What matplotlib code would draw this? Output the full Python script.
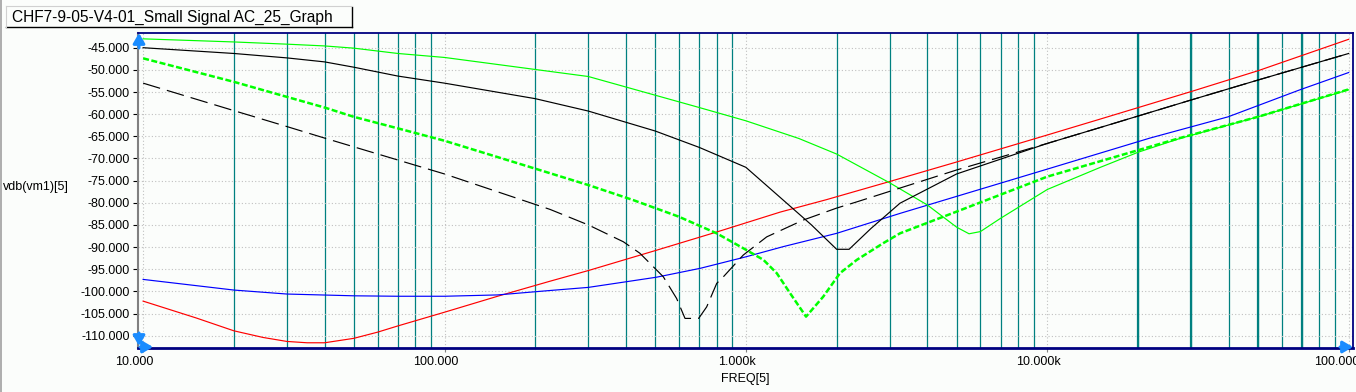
import numpy as np
import matplotlib
matplotlib.use("Agg")
import matplotlib.pyplot as plt
from matplotlib.lines import Line2D
from matplotlib.transforms import ScaledTranslation

plt.rcParams['font.family'] = ['Liberation Sans', 'DejaVu Sans']

W, H = 1356, 392

# ---------------- data ----------------
title = "CHF7-9-05-V4-01_Small Signal AC_25_Graph"
y_label = "vdb(vm1)[5]"
x_label = "FREQ[5]"

x_ticks = [10, 100, 1000, 10000, 100000]
x_tick_labels = ["10.000", "100.000", "1.000k", "10.000k", "100.000k"]
y_ticks = [-110, -105, -100, -95, -90, -85, -80, -75, -70, -65, -60, -55, -50, -45]
y_tick_labels = ["%.3f" % v for v in y_ticks]

red_f = [10, 15, 20, 25, 30, 35, 40, 50, 60, 70, 100, 150, 224, 300, 500, 800,
         1300, 1850, 3000, 5000, 10000, 15000, 30000, 50000, 100000]
red_v = [-102.2, -106.0, -108.9, -110.4, -111.3, -111.6, -111.6, -110.6, -109.2,
         -107.8, -104.7, -101.1, -97.7, -95.3, -90.8, -86.6, -82.1, -79.3, -75.2,
         -70.8, -64.7, -61.1, -54.9, -50.2, -43.1]

blk_f = [10, 20, 30, 40, 50, 70, 100, 200, 300, 500, 700, 1000, 1330, 1650,
         2000, 2200, 2600, 3245, 5000, 10000, 15000, 30000, 50000, 100000]
blk_v = [-45.0, -46.3, -47.3, -48.2, -49.4, -51.4, -53.0, -56.5, -59.3, -63.8,
         -67.5, -72.0, -79.4, -85.0, -90.5, -90.5, -85.8, -80.1, -73.5, -66.6,
         -63.0, -56.8, -52.3, -46.3]

blkd_f = [10, 20, 30, 40, 100, 224, 300, 392, 445, 532, 589, 628, 697, 741, 800,
          842, 980, 1172, 1550, 2000, 2332, 5000, 10000, 15000, 30000, 50000, 100000]
blkd_v = [-53.0, -59.2, -62.8, -65.4, -73.5, -81.5, -85.0, -88.8, -91.4, -96.7,
          -101.6, -106.1, -106.1, -103.5, -98.2, -96.7, -91.8, -87.7, -83.9, -81.2,
          -79.8, -72.6, -66.6, -63.0, -56.8, -52.3, -46.3]

grn_f = [10, 20, 30, 40, 50, 70, 100, 300, 700, 1000, 1500, 2000, 3000, 4000,
         5000, 5500, 6000, 7000, 10000, 15000, 20000, 27500, 50000, 100000]
grn_v = [-43.0, -43.7, -44.2, -44.6, -45.1, -46.3, -47.2, -51.5, -58.5, -61.5,
         -65.5, -69.0, -75.5, -80.5, -85.5, -87.0, -86.5, -83.5, -77.0, -72.0,
         -68.6, -65.5, -60.6, -54.5]

grnd_f = [10, 20, 30, 40, 50, 70, 100, 200, 300, 423, 597, 800, 1006, 1144, 1266,
          1401, 1583, 1805, 2051, 2332, 2858, 3245, 5000, 10000, 27500, 50000, 100000]
grnd_v = [-47.4, -52.7, -56.1, -58.5, -60.6, -63.2, -66.0, -72.3, -76.0, -79.4,
          -83.1, -86.9, -90.7, -92.9, -95.9, -100.4, -105.7, -101.2, -95.9, -92.9,
          -89.1, -86.9, -82.0, -74.1, -65.4, -60.6, -54.4]

blu_f = [10, 20, 30, 50, 70, 100, 150, 224, 300, 403, 505, 705, 1000, 1330, 2000,
         3245, 10000, 21900, 39800, 68900, 100000]
blu_v = [-97.3, -99.7, -100.6, -101.0, -101.1, -101.1, -100.8, -99.8, -99.1, -97.8,
         -96.8, -94.8, -92.2, -89.9, -86.9, -82.4, -72.4, -65.4, -60.6, -54.5, -50.6]

thick_minor = [20000, 30000, 50000, 70000]

# ---------------- figure ----------------
bg = '#fbfdfb'
fig = plt.figure(figsize=(W / 100, H / 100), dpi=100, facecolor=bg)

def fx(x):
    return x / W

def fy(y):
    return 1 - y / H

ax_l, ax_r, ax_t, ax_b = 138, 1352.7, 33, 348
ax = fig.add_axes([fx(ax_l), fy(ax_b), (ax_r - ax_l) / W, (ax_b - ax_t) / H])
ax.set_facecolor(bg)
ax.set_xscale('log')
ax.set_xlim(10 ** 0.983, 10 ** 5.0133)
ax.set_ylim(-112.78, -41.68)

ax.set_xticks(x_ticks)
ax.set_xticklabels(x_tick_labels)
ax.xaxis.set_minor_locator(matplotlib.ticker.LogLocator(base=10, subs=np.arange(2, 10)))
ax.xaxis.set_minor_formatter(matplotlib.ticker.NullFormatter())
ax.set_yticks(y_ticks)
ax.set_yticklabels(y_tick_labels)

ax.set_axisbelow(True)
ax.grid(which='major', axis='both', color='#c0c0c0', linestyle=(0, (1, 2)), lw=0.8)
ax.grid(which='minor', axis='x', color='#008080', linestyle='-', lw=0.9)
for f in thick_minor:
    ax.axvline(f, color='#008080', lw=1.6, zorder=0.6)

ax.tick_params(axis='x', which='major', length=3, width=0.8, color='#808080',
               labelsize=9, pad=3, direction='out')
ax.tick_params(axis='x', which='minor', length=0)
ax.tick_params(axis='y', which='major', length=3.5, width=0.8, color='black',
               labelsize=9, pad=2.2, direction='out')
for lab in ax.get_xticklabels():
    lab.set_transform(lab.get_transform() + ScaledTranslation(-9 / 100, 0, fig.dpi_scale_trans))

for s in ['top', 'right']:
    ax.spines[s].set_color('#000080')
    ax.spines[s].set_linewidth(1.3)
ax.spines['bottom'].set_color('#000080')
ax.spines['bottom'].set_linewidth(2.0)
ax.spines['left'].set_color('#808080')
ax.spines['left'].set_linewidth(1.5)

lw1 = 0.85
ax.plot(red_f, red_v, color='#ff0000', lw=lw1, zorder=3)
ax.plot(blu_f, blu_v, color='#0000ff', lw=lw1, zorder=3)
ax.plot(grn_f, grn_v, color='#00ff00', lw=lw1, zorder=3)
ax.plot(blk_f, blk_v, color='#000000', lw=lw1, zorder=3)
ax.plot(blkd_f, blkd_v, color='#000000', lw=lw1, linestyle=(0, (15, 6)), zorder=3)
ax.plot(grnd_f, grnd_v, color='#00ff00', lw=1.8, linestyle=(0, (2.4, 1.0)), zorder=3)

# axis labels
fig.text(fx(745), fy(379), x_label, ha='center', va='center', fontsize=9)
fig.text(fx(3), fy(187), y_label, ha='left', va='center', fontsize=9)

# blue arrows at the axes corners
acol = '#1a8cff'
def arrow(x0, y0, x1, y1):
    ax.annotate('', xy=(fx(x1), fy(y1)), xycoords='figure fraction',
                xytext=(fx(x0), fy(y0)), textcoords='figure fraction',
                arrowprops=dict(arrowstyle='-|>,head_width=0.35,head_length=0.6',
                                color=acol, lw=2.2, shrinkA=0, shrinkB=0),
                annotation_clip=False, zorder=6)

arrow(139, 48, 139, 33)
arrow(139, 333, 139, 346)
arrow(140, 347, 153, 347)
arrow(1340, 347, 1353, 347)

# title tab
fig.add_artist(Line2D([fx(6), fx(352)], [fy(27), fy(27)], color='black', lw=1.0))
fig.add_artist(Line2D([fx(352), fx(352)], [fy(7), fy(27)], color='black', lw=1.0))
fig.add_artist(Line2D([fx(6), fx(352)], [fy(6), fy(6)], color='#d0d0d0', lw=0.8))
fig.add_artist(Line2D([fx(6), fx(6)], [fy(6), fy(27)], color='#d0d0d0', lw=0.8))
fig.text(fx(12), fy(17), title, ha='left', va='center', fontsize=11.2)

# left window border
fig.add_artist(Line2D([fx(0.8), fx(0.8)], [0, 1], color='#a0a0a0', lw=1.2))

fig.savefig('out.png', dpi=100, facecolor=bg)
